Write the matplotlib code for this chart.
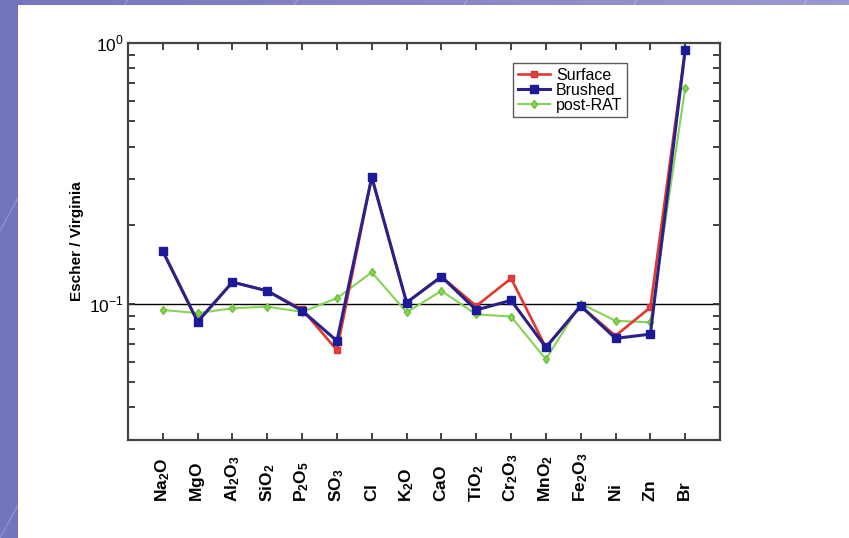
import numpy as np
import matplotlib.pyplot as plt
from matplotlib.patches import Rectangle
from matplotlib.colors import LinearSegmentedColormap
from matplotlib.ticker import LogLocator, NullFormatter, FixedLocator

plt.rcParams['font.family'] = ['Liberation Sans', 'DejaVu Sans']
plt.rcParams['mathtext.fontset'] = 'custom'
plt.rcParams['mathtext.rm'] = 'Liberation Sans'
plt.rcParams['mathtext.bf'] = 'Liberation Sans:bold'

# element labels (oxides written with subscripts)
elements = [r'$\mathbf{Na_2O}$', r'$\mathbf{MgO}$', r'$\mathbf{Al_2O_3}$', r'$\mathbf{SiO_2}$',
            r'$\mathbf{P_2O_5}$', r'$\mathbf{SO_3}$', r'$\mathbf{Cl}$', r'$\mathbf{K_2O}$',
            r'$\mathbf{CaO}$', r'$\mathbf{TiO_2}$', r'$\mathbf{Cr_2O_3}$', r'$\mathbf{MnO_2}$',
            r'$\mathbf{Fe_2O_3}$', r'$\mathbf{Ni}$', r'$\mathbf{Zn}$', r'$\mathbf{Br}$']

# Escher / Virginia ratios
surface = [0.159, 0.0853, 0.121, 0.112, 0.095, 0.0664, 0.306, 0.101,
           0.127, 0.098, 0.125, 0.068, 0.098, 0.0753, 0.0968, 0.94]
brushed = [0.159, 0.0853, 0.121, 0.112, 0.094, 0.072, 0.306, 0.101,
           0.127, 0.0946, 0.103, 0.068, 0.098, 0.0736, 0.0764, 0.94]
post_rat = [0.0946, 0.092, 0.096, 0.0974, 0.093, 0.105, 0.132, 0.0926,
            0.112, 0.091, 0.0893, 0.0612, 0.100, 0.086, 0.0848, 0.671]

x = np.arange(len(elements))

fig = plt.figure(figsize=(8.49, 5.38), dpi=100)

# slide background: purple gradient with a white panel on top
bg = fig.add_axes([0, 0, 1, 1])
grad = np.linspace(0, 1, 256)[None, :]
bg.imshow(grad, aspect='auto', extent=[0, 1, 0, 1],
          cmap=LinearSegmentedColormap.from_list('slide', ['#7474bd', '#9a9ad2']))
for k in np.linspace(-0.6, 1.0, 9):
    bg.plot([k, k + 0.35], [0, 1], color='white', alpha=0.25, lw=0.8)
bg.add_patch(Rectangle((18 / 849, 0), 1, 1 - 5 / 538, facecolor='white', edgecolor='none'))
bg.set_xlim(0, 1)
bg.set_ylim(0, 1)
bg.axis('off')

ax = fig.add_axes([128 / 849, 1 - 440 / 538, 592 / 849, 397 / 538])
ax.set_facecolor('white')

ax.axhline(0.1, color='black', lw=1.0, zorder=1)

l_green, = ax.plot(x, post_rat, color='#86d455', lw=1.5, marker='d', ms=4.5,
                   mec='#6cc23c', mfc='#86d455', zorder=2)
l_red, = ax.plot(x, surface, color='#e03a30', lw=1.9, marker='s', ms=4.5,
                 mec='#d33', mfc='#e04040', zorder=3)
l_blue, = ax.plot(x, brushed, color='#2a2288', lw=2.2, marker='s', ms=6,
                  mec='#1a1a9a', mfc='#1a1a9a', zorder=4)

ax.set_yscale('log')
ax.set_ylim(0.03, 1.0)
ax.set_xlim(-1, 16)

ax.yaxis.set_major_locator(FixedLocator([0.1, 1.0]))
ax.set_yticklabels([r'$10^{-1}$', r'$10^{0}$'])
ax.yaxis.set_minor_locator(LogLocator(base=10, subs=np.arange(2, 10)))
ax.yaxis.set_minor_formatter(NullFormatter())

ax.set_xticks(x)
ax.set_xticklabels([])
ax.tick_params(axis='x', which='both', direction='in', top=True, bottom=True,
               length=5, width=1.3, color='#333333')
ax.tick_params(axis='y', which='both', direction='in', left=True, right=True,
               length=5, width=1.3, color='#333333', labelsize=12.5, pad=3)

for s in ax.spines.values():
    s.set_linewidth(1.6)
    s.set_color('#444444')

# rotated element names, all starting from the same baseline under the axis
for xi, lab in zip(x, elements):
    ax.text(xi, -0.157, lab, transform=ax.get_xaxis_transform(), rotation=90,
            ha='center', va='bottom', fontsize=12.5)

ax.set_ylabel('Escher / Virginia', fontsize=11, fontweight='bold', labelpad=4)

leg = ax.legend([l_red, l_blue, l_green], ['Surface', 'Brushed', 'post-RAT'],
                loc='upper left', bbox_to_anchor=(0.65, 0.95), fontsize=11.5,
                frameon=True, fancybox=False, edgecolor='#333333',
                handlelength=2.0, handletextpad=0.4, labelspacing=0.0,
                borderpad=0.3, borderaxespad=0)
leg.get_frame().set_linewidth(1.0)

fig.savefig('out.png', dpi=100)
